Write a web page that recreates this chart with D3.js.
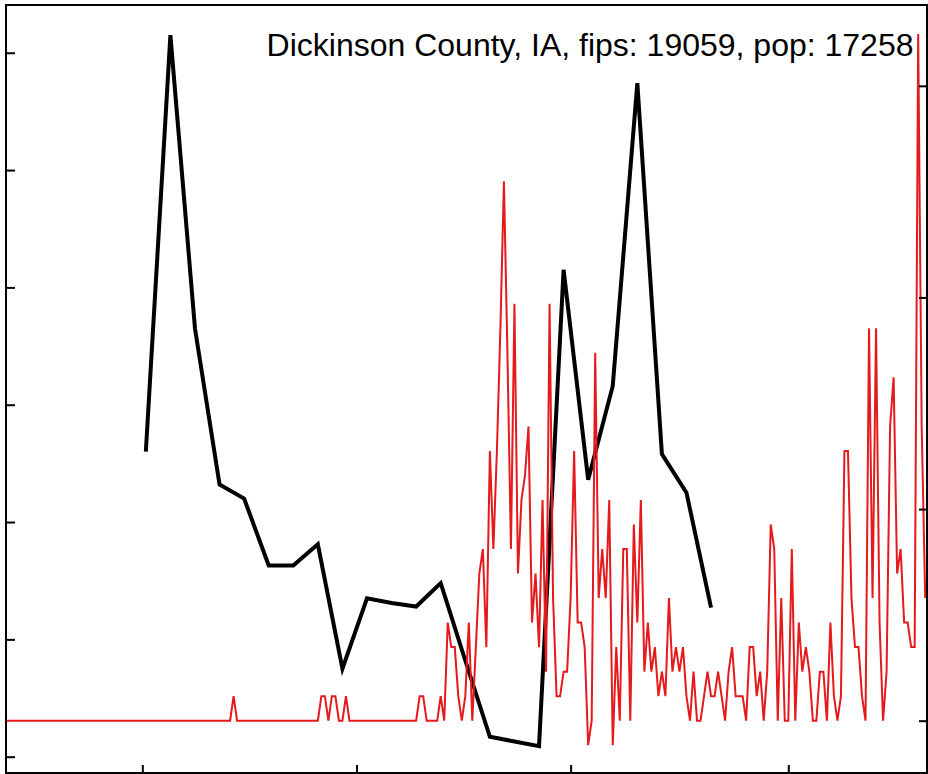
<!DOCTYPE html>
<html><head><meta charset="utf-8">
<script src="https://cdn.jsdelivr.net/npm/d3@7"></script>
<style>body{margin:0;background:#fff}svg{display:block}</style>
</head><body><svg id="c" width="928" height="774"></svg>
<script>
const title = "Dickinson County, IA, fips: 19059, pop: 17258";
const population = 17258;
const dailyStart = "2020-01-22";
const dailyCases = [
  0,0,0,0,0,0,0,0,0,0, 0,0,0,0,0,0,0,0,0,0, 0,0,0,0,0,0,0,0,0,0, 0,0,0,0,0,0,0,0,0,0,
  0,0,0,0,0,0,0,0,0,0, 0,0,0,0,0,0,0,0,0,0, 0,0,0,0,0,
  1,
  0,0,0,0,0,0,0,0,0,0, 0,0,0,0,0,0,0,0,0,0, 0,0,0,0,
  1,1,0,1,1,0,0,1,0,
  0,0,0,0,0,0,0,0,0,0, 0,0,0,0,0,0,0,0,0,
  1,1,0,0,0,0,1,0,
  4,3,3,1,0,1,4,0,3,6,7,3,
  11,7,11,16,22,15,7,17,6,9,10,12,4,6,3,9,2,17,5,
  1,1,2,2,5,11,4,4,3,-1,0,15,5,7,5,9,-1,3,0,7,7,0,8,4,9,2,4,2,3,1,2,1,5,2,3,2,3,
  1,0,2,0,0,1,2,1,1,2,1,0,2,3,1,1,1,0,3,3,1,2,0,2,8,7,0,5,0,0,7,0,4,2,3,2,
  0,0,2,2,0,4,1,0,1,11,11,5,3,3,1,0,16,5,16,4,0,2,12,14,6,7,4,4,3,3,28,12,5
];
const weekDates = ["2020-03-02","2020-03-09","2020-03-16","2020-03-23","2020-03-30","2020-04-06",
  "2020-04-13","2020-04-20","2020-04-27","2020-05-04","2020-05-11","2020-05-18","2020-05-25",
  "2020-06-01","2020-06-08","2020-06-15","2020-06-22","2020-06-29","2020-07-06","2020-07-13",
  "2020-07-20","2020-07-27","2020-08-03","2020-08-10"];
const weekValues = [2.60,6.15,3.65,2.32,2.20,1.63,1.63,1.81,0.75,1.35,1.31,1.28,1.48,0.82,
  0.17,0.13,0.09,4.15,2.36,3.16,5.74,2.58,2.25,1.27];
const xTickDates = ["2020-03-01","2020-05-01","2020-07-01","2020-09-01"];
const leftTicks = [0,1,2,3,4,5,6];
const rightTicks = [0,50,100,150];

const parse = d3.utcParse("%Y-%m-%d");
const start = parse(dailyStart);
const daily = dailyCases.map((v,i)=>({date:d3.utcDay.offset(start,i), v}));
const weekly = weekDates.map((d,i)=>({date:parse(d), v:weekValues[i]}));

const L=6, R=927, T=5, B=773;
const x = d3.scaleUtc().domain([start, daily[daily.length-1].date]).range([5.4, 925.2]);
const yL = d3.scaleLinear().domain([-0.139, 6.407]).range([B, T]);
const yR = d3.scaleLinear().domain([-12.36, 169.1]).range([B, T]);

const svg = d3.select("#c");
svg.append("rect").attr("width",928).attr("height",774).attr("fill","#fff");

const blackLine = d3.line().x(d=>x(d.date)).y(d=>yL(d.v));
svg.append("path").datum(weekly).attr("d",blackLine)
  .attr("fill","none").attr("stroke","#000").attr("stroke-width",4);

const redLine = d3.line().x(d=>x(d.date)).y(d=>yR(d.v*100000/population));
svg.append("path").datum(daily).attr("d",redLine)
  .attr("fill","none").attr("stroke","#e41a1c").attr("stroke-width",2);

function style(g){
  g.select(".domain").remove();
  g.selectAll(".tick line").attr("stroke","#000").attr("stroke-width",2);
  g.selectAll("text").remove();
}
svg.append("g").attr("transform",`translate(${L},0)`)
  .call(d3.axisLeft(yL).tickValues(leftTicks).tickSize(-9).tickFormat("")).call(style);
svg.append("g").attr("transform",`translate(${R},0)`)
  .call(d3.axisRight(yR).tickValues(rightTicks).tickSize(-8).tickFormat("")).call(style);
svg.append("g").attr("transform",`translate(0,${B})`)
  .call(d3.axisBottom(x).tickValues(xTickDates.map(parse)).tickSize(-8).tickFormat("")).call(style);

svg.append("rect").attr("x",L).attr("y",T).attr("width",R-L).attr("height",B-T)
  .attr("fill","none").attr("stroke","#000").attr("stroke-width",2);

svg.append("text").attr("x",913.5).attr("y",56).attr("text-anchor","end")
  .attr("font-family","Liberation Sans, Arial, sans-serif").attr("font-size",32)
  .attr("fill","#000").text(title);
</script></body></html>
